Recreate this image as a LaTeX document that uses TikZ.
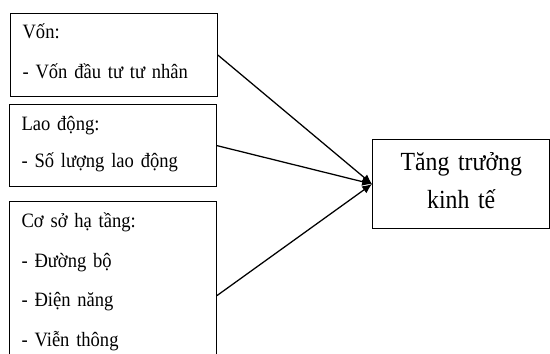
\documentclass[tikz,border=0pt]{standalone}
\usepackage{fontspec}
\setmainfont[FakeStretch=0.91]{Liberation Serif}
\usetikzlibrary{arrows.meta}

\tikzset{
    factor/.style={draw, line width=0.9pt, anchor=north west, align=left,
        inner xsep=8.5pt, inner ysep=0pt, text width=130pt,
        font=\fontsize{14.5pt}{28.2pt}\selectfont},
    result/.style={draw, line width=0.9pt, anchor=north west, align=center,
        inner xsep=8pt, inner ysep=0pt, text width=110pt,
        text height=22pt, text depth=41.2pt,
        font=\fontsize{18.6pt}{27pt}\selectfont},
    link/.style={line width=0.9pt, -{Latex[length=7pt, width=6pt]}}
}

\begin{document}
\begin{tikzpicture}
    \useasboundingbox (0, 0) rectangle (13.75, 8.825);
    \clip (0, 0) rectangle (13.75, 8.825);

    % cac yeu to ben trai
    \node[factor, text height=17.8pt, text depth=41.2pt,
        font=\fontsize{14.5pt}{28.4pt}\selectfont] (von) at (0.25, 8.5)
        {Vốn:\\- Vốn đầu tư tư nhân};
    \node[factor, text height=18.5pt, text depth=39.8pt,
        font=\fontsize{14.5pt}{26.3pt}\selectfont] (laodong) at (0.225, 6.225)
        {Lao động:\\- Số lượng lao động};
    \node[factor, text height=18.5pt, text depth=115.2pt] (hatang) at (0.225, 3.8)
        {Cơ sở hạ tầng:\\- Đường bộ\\- Điện năng\\- Viễn thông};

    % ket qua
    \node[result] (tang) at (9.3, 5.35) {Tăng trưởng\\kinh tế};

    \draw[link] (von.east) -- (tang.west);
    \draw[link] (laodong.east) -- (tang.west);
    \draw[link] (hatang.east) -- (tang.west);
\end{tikzpicture}
\end{document}
